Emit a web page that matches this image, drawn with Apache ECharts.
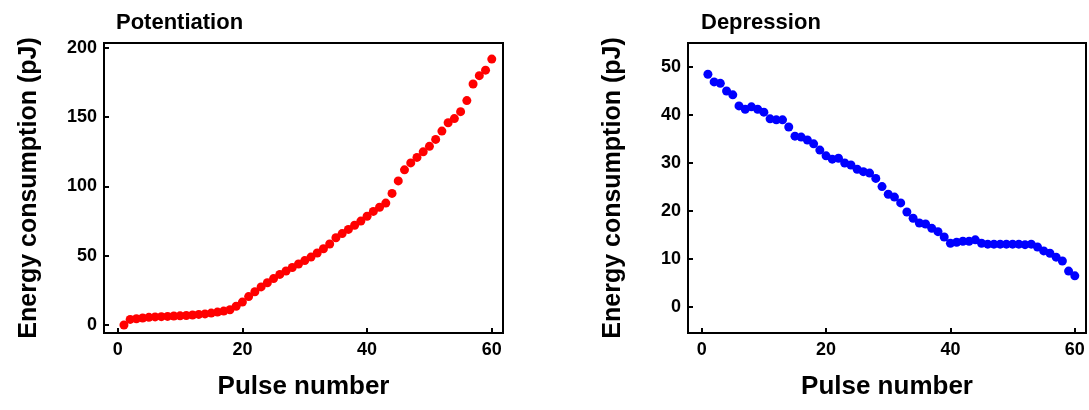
<!DOCTYPE html>
<html>
<head>
<meta charset="utf-8">
<script src="https://cdn.jsdelivr.net/npm/echarts@6/dist/echarts.min.js"></script>
<style>
  html, body { margin: 0; padding: 0; background: #fff; }
  #chart { width: 1089px; height: 410px; }
</style>
</head>
<body>
<div id="chart"></div>
<script>
// Pulse numbers (x)
const pulses = [1, 2, 3, 4, 5, 6, 7, 8, 9, 10, 11, 12, 13, 14, 15, 16, 17, 18, 19, 20,
  21, 22, 23, 24, 25, 26, 27, 28, 29, 30, 31, 32, 33, 34, 35, 36, 37, 38, 39, 40,
  41, 42, 43, 44, 45, 46, 47, 48, 49, 50, 51, 52, 53, 54, 55, 56, 57, 58, 59, 60];

// Energy consumption (pJ)
const potentiation = [0, 4, 4.5, 5, 5.5, 5.8, 6, 6.2, 6.5, 6.6, 6.8, 7.2, 7.6, 8, 8.6, 9.3, 10, 11, 13.5, 16.5,
  20.5, 24, 27.5, 30.5, 33.5, 36.5, 39, 41.5, 44, 46.5, 49, 52, 55, 58.5, 63, 66, 69, 72, 75, 78.5,
  82, 85, 88, 95, 104, 112, 117, 121, 125, 129, 134, 140, 146, 149, 154, 162, 174, 180, 184, 192];

const depression = [48.5, 46.9, 46.6, 45, 44.2, 41.9, 41.2, 41.7, 41.2, 40.6, 39.2, 39, 39, 37.5, 35.6, 35.4, 34.8, 34, 32.7, 31.5,
  30.8, 31, 30, 29.6, 28.7, 28.2, 27.9, 26.8, 25.1, 23.5, 22.9, 21.7, 19.8, 18.5, 17.5, 17.3, 16.4, 15.7, 14.6, 13.3,
  13.5, 13.7, 13.7, 14, 13.3, 13.1, 13.1, 13.1, 13.1, 13.1, 13.1, 13, 13.1, 12.5, 11.7, 11.2, 10.4, 9.6, 7.5, 6.5];

// Tick labels
const xTicks = [0, 20, 40, 60];
const yTicksPot = [0, 50, 100, 150, 200];
const yTicksDep = [0, 10, 20, 30, 40, 50];

const font = 'Liberation Sans, Arial, sans-serif';

function xAxisCfg(gridIndex) {
  return {
    type: 'value',
    gridIndex: gridIndex,
    min: -2.2,
    max: 61.8,
    name: 'Pulse number',
    nameLocation: 'middle',
    nameGap: 41,
    nameTextStyle: { fontFamily: font, fontWeight: 'bold', fontSize: 26, color: '#000' },
    axisLine: { show: true, onZero: false, lineStyle: { color: '#000', width: 2 } },
    axisTick: { show: true, inside: true, length: 5, lineStyle: { color: '#000', width: 2 }, customValues: xTicks },
    axisLabel: { fontFamily: font, fontWeight: 'bold', fontSize: 18, color: '#000', margin: 8, customValues: xTicks },
    splitLine: { show: false }
  };
}

function yAxisCfg(gridIndex, min, max, ticks) {
  return {
    type: 'value',
    gridIndex: gridIndex,
    min: min,
    max: max,
    name: 'Energy consumption (pJ)',
    nameLocation: 'middle',
    nameRotate: 90,
    nameGap: 62,
    nameTextStyle: { fontFamily: font, fontWeight: 'bold', fontSize: 25, color: '#000' },
    axisLine: { show: true, onZero: false, lineStyle: { color: '#000', width: 2 } },
    axisTick: { show: true, inside: true, length: 5, lineStyle: { color: '#000', width: 2 }, customValues: ticks },
    axisLabel: { fontFamily: font, fontWeight: 'bold', fontSize: 18, color: '#000', margin: 7, customValues: ticks },
    splitLine: { show: false }
  };
}

const chart = echarts.init(document.getElementById('chart'));

const option = {
  animation: false,
  backgroundColor: '#fff',
  title: [
    { text: 'Potentiation', left: 111, top: 7, textStyle: { fontFamily: font, fontWeight: 'bold', fontSize: 22, color: '#000' } },
    { text: 'Depression', left: 696, top: 7, textStyle: { fontFamily: font, fontWeight: 'bold', fontSize: 22, color: '#000' } }
  ],
  grid: [
    { left: 104, right: 586, top: 43, bottom: 77, show: true, borderColor: '#000', borderWidth: 2 },
    { left: 688, right: 3, top: 43, bottom: 77, show: true, borderColor: '#000', borderWidth: 2 }
  ],
  xAxis: [xAxisCfg(0), xAxisCfg(1)],
  yAxis: [
    yAxisCfg(0, -5.8, 203.6, yTicksPot),
    yAxisCfg(1, -5.4, 55, yTicksDep)
  ],
  series: [
    {
      name: 'Potentiation',
      type: 'scatter',
      xAxisIndex: 0,
      yAxisIndex: 0,
      symbolSize: 9,
      itemStyle: { color: '#ff0000', opacity: 1 },
      data: pulses.map((p, i) => [p, potentiation[i]])
    },
    {
      name: 'Depression',
      type: 'scatter',
      xAxisIndex: 1,
      yAxisIndex: 1,
      symbolSize: 9,
      itemStyle: { color: '#0000ff', opacity: 1 },
      data: pulses.map((p, i) => [p, depression[i]])
    }
  ]
};

chart.setOption(option);
</script>
</body>
</html>
